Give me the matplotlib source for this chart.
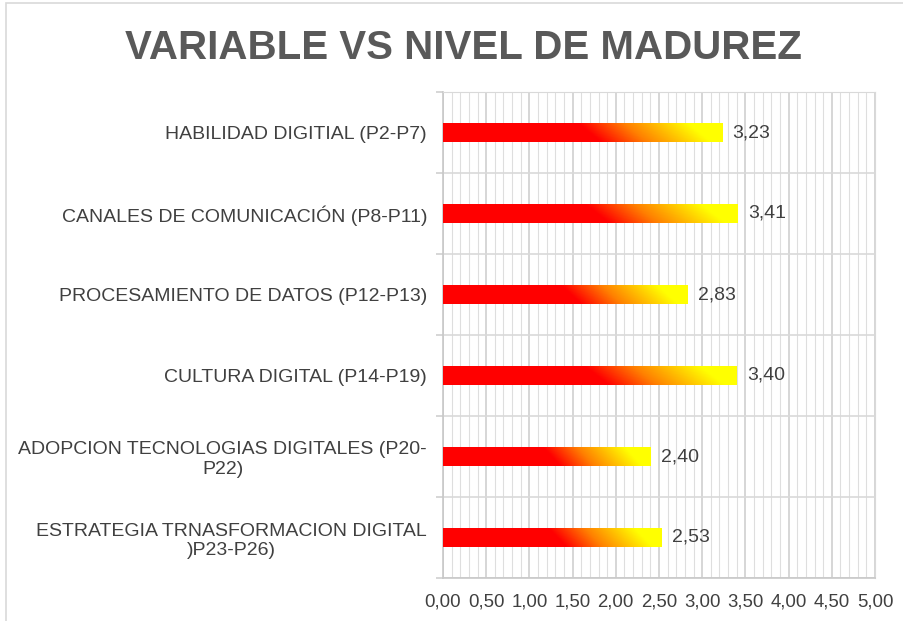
import matplotlib
matplotlib.use("Agg")
import matplotlib.pyplot as plt
import numpy as np
from matplotlib.colors import LinearSegmentedColormap
from matplotlib.patches import Rectangle
from matplotlib.ticker import MultipleLocator, FuncFormatter

categories = [
    "HABILIDAD DIGITIAL (P2-P7)",
    "CANALES DE COMUNICACIÓN (P8-P11)",
    "PROCESAMIENTO DE DATOS (P12-P13)",
    "CULTURA DIGITAL (P14-P19)",
    "ADOPCION TECNOLOGIAS DIGITALES (P20-\nP22)",
    "ESTRATEGIA TRNASFORMACION DIGITAL\n)P23-P26)",
]
values = [3.23, 3.41, 2.83, 3.40, 2.40, 2.53]
title = "VARIABLE VS NIVEL DE MADUREZ"

plt.rcParams['font.family'] = ['Liberation Sans', 'DejaVu Sans']
txt = '#404040'

fig = plt.figure(figsize=(9.04, 6.21), dpi=100)
fig.patches.append(Rectangle((6/904, -0.1), 1.2, (621-3)/621 + 0.1, transform=fig.transFigure,
                             fill=False, edgecolor='#d9d9d9', lw=1.2))
ax = fig.add_axes([443/904, 43/621, 432/904, 486/621])

cmap = LinearSegmentedColormap.from_list('ry', [(0, '#ff0000'), (0.57, '#ff0000'), (0.75, '#ff8000'), (1.0, '#ffff00')])
n = len(values)
ypos = np.arange(n)
h = 0.23
bars = ax.barh(ypos, values, height=h, color='none', edgecolor='none', zorder=3)
nx, ny = 300, 30
xf = np.linspace(0, 1, nx)[None, :]
yf = np.linspace(0, 1, ny)[:, None]
for b, v, y in zip(bars, values, ypos):
    g = np.clip((xf - 0.08 * (yf - 0.5)) / 0.92, 0, 1)
    im = ax.imshow(g, extent=[0, v, y + h/2, y - h/2], cmap=cmap, vmin=0, vmax=1,
                   aspect='auto', zorder=3, interpolation='bilinear', origin='upper')
    im.set_clip_path(b)
    ax.text(v + 0.12, y, f"{v:.2f}".replace('.', ','), va='center', ha='left',
            fontsize=14, color=txt, zorder=4)

ax.set_xlim(0, 5)
ax.set_ylim(n - 0.5, -0.5)
ax.xaxis.set_major_locator(MultipleLocator(0.5))
ax.xaxis.set_minor_locator(MultipleLocator(0.1))
ax.xaxis.set_major_formatter(FuncFormatter(lambda x, p: f"{x:.2f}".replace('.', ',')))
ax.grid(which='major', axis='x', color='#d0d0d0', lw=1.2, zorder=0)
ax.grid(which='minor', axis='x', color='#dedede', lw=0.8, zorder=0)
ax.set_yticks(ypos)
ax.set_yticklabels(categories, fontsize=14, color=txt, multialignment='center')
ax.set_yticks(np.arange(-0.5, n, 1), minor=True)
ax.grid(which='minor', axis='y', color='#d9d9d9', lw=1.2, zorder=0)
ax.tick_params(axis='y', which='major', length=0, pad=11.5)
ax.tick_params(axis='y', which='minor', length=5, color='#d0d0d0', width=1.2)
ax.tick_params(axis='x', which='both', length=0, pad=11, labelsize=13.4, labelcolor=txt)
for s in ['top', 'right']:
    ax.spines[s].set_color('#d9d9d9')
for s in ['left', 'bottom']:
    ax.spines[s].set_color('#c8c8c8')
    ax.spines[s].set_linewidth(1.2)

fig.text(463/904, 1 - 48/621, title, ha='center', va='center', fontsize=29,
         fontweight='bold', color='#595959')

fig.savefig('out.png', dpi=100)
